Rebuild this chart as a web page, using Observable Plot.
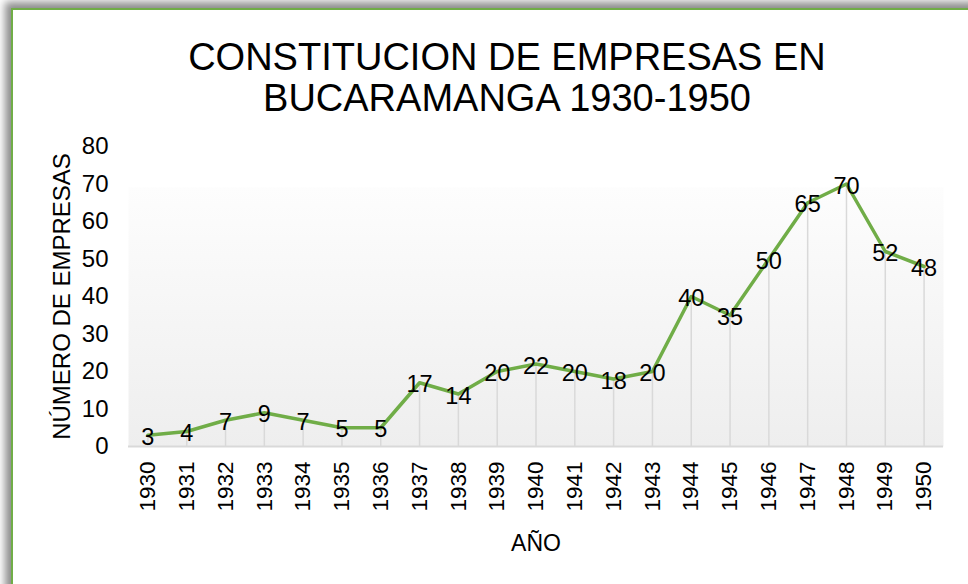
<!DOCTYPE html>
<html>
<head>
<meta charset="utf-8">
<script src="https://cdn.jsdelivr.net/npm/d3@7"></script>
<script src="https://cdn.jsdelivr.net/npm/@observablehq/plot@0.6"></script>
<style>
  html, body { margin: 0; padding: 0; background: #fff; }
  body { width: 968px; height: 584px; overflow: hidden; position: relative; font-family: "Liberation Sans", Arial, sans-serif; }
  #frame { position: absolute; left: 11px; top: 8px; width: 1000px; height: 620px; border-left: 2px solid #70AD47; border-top: 2px solid #70AD47; box-shadow: -3px -3px 8px 3px rgba(0,0,0,0.45); background: #fff; }
  #title { position: absolute; left: 0; top: 37px; width: 1014px; text-align: center; font-size: 38px; line-height: 41px; color: #000; }
  #chart { position: absolute; left: 0; top: 130px; }
</style>
</head>
<body>
<div id="frame"></div>
<div id="title">CONSTITUCION DE EMPRESAS EN<br>BUCARAMANGA 1930-1950</div>
<div id="chart"></div>
<script>
const years = ["1930","1931","1932","1933","1934","1935","1936","1937","1938","1939","1940","1941","1942","1943","1944","1945","1946","1947","1948","1949","1950"];
const empresas = [3,4,7,9,7,5,5,17,14,20,22,20,18,20,40,35,50,65,70,52,48];
const yTicks = [0,10,20,30,40,50,60,70,80];

const data = years.map((y, i) => ({year: y, value: empresas[i]}));

const plot = Plot.plot({
  width: 968,
  height: 454,
  marginTop: 16,
  marginBottom: 138,
  marginLeft: 128,
  marginRight: 25,
  style: {fontFamily: '"Liberation Sans", Arial, sans-serif', fontSize: "23px", color: "#000", background: "transparent", overflow: "visible"},
  x: {type: "point", domain: years, padding: 0.5, round: false},
  y: {domain: [0, 80]},
  marks: [
    Plot.frame({fill: "url(#bgGrad)", stroke: null}),
    Plot.ruleX(data, {x: "year", y1: 0, y2: "value", stroke: "#d9d9d9", strokeWidth: 1.5}),
    Plot.ruleY([0], {stroke: "#d9d9d9", strokeWidth: 2}),
    Plot.axisY({ticks: yTicks, tickSize: 0, tickPadding: 20, label: "NÚMERO DE EMPRESAS", labelAnchor: "center", labelArrow: "none", labelOffset: 76}),
    Plot.axisX({tickRotate: -90, tickSize: 0, tickPadding: 15, label: "AÑO", labelAnchor: "center", labelArrow: "none", labelOffset: 104}),
    Plot.line(data, {x: "year", y: "value", stroke: "#70AD47", strokeWidth: 3.5, strokeLinejoin: "round", strokeLinecap: "round"}),
    Plot.text(data, {x: "year", y: "value", text: d => String(d.value), fill: "#000", dy: 2, className: "dlabel"})
  ]
});

const svg = d3.select(plot);
const defs = svg.insert("defs", ":first-child");
const g = defs.append("linearGradient").attr("id", "bgGrad").attr("x1", 0).attr("y1", 0).attr("x2", 0).attr("y2", 1);
g.append("stop").attr("offset", "0%").attr("stop-color", "#ffffff").attr("stop-opacity", 0);
g.append("stop").attr("offset", "13.5%").attr("stop-color", "#ffffff").attr("stop-opacity", 0);
g.append("stop").attr("offset", "13.7%").attr("stop-color", "#fdfdfd");
g.append("stop").attr("offset", "100%").attr("stop-color", "#eeeeee");
svg.selectAll("[aria-label='y-axis tick label'], [aria-label='y-axis tick label'] text").style("font-size", "24px");
svg.selectAll("[aria-label='x-axis tick label'], [aria-label='x-axis tick label'] text").style("font-size", "22.5px");
svg.selectAll("[aria-label='text'], [aria-label='text'] text").style("font-size", "23.5px");
svg.selectAll("[aria-label='y-axis label'], [aria-label='y-axis label'] text").style("font-size", "24px");
svg.selectAll("[aria-label='x-axis label'], [aria-label='x-axis label'] text").style("font-size", "23px");

document.getElementById("chart").appendChild(plot);
</script>
</body>
</html>
